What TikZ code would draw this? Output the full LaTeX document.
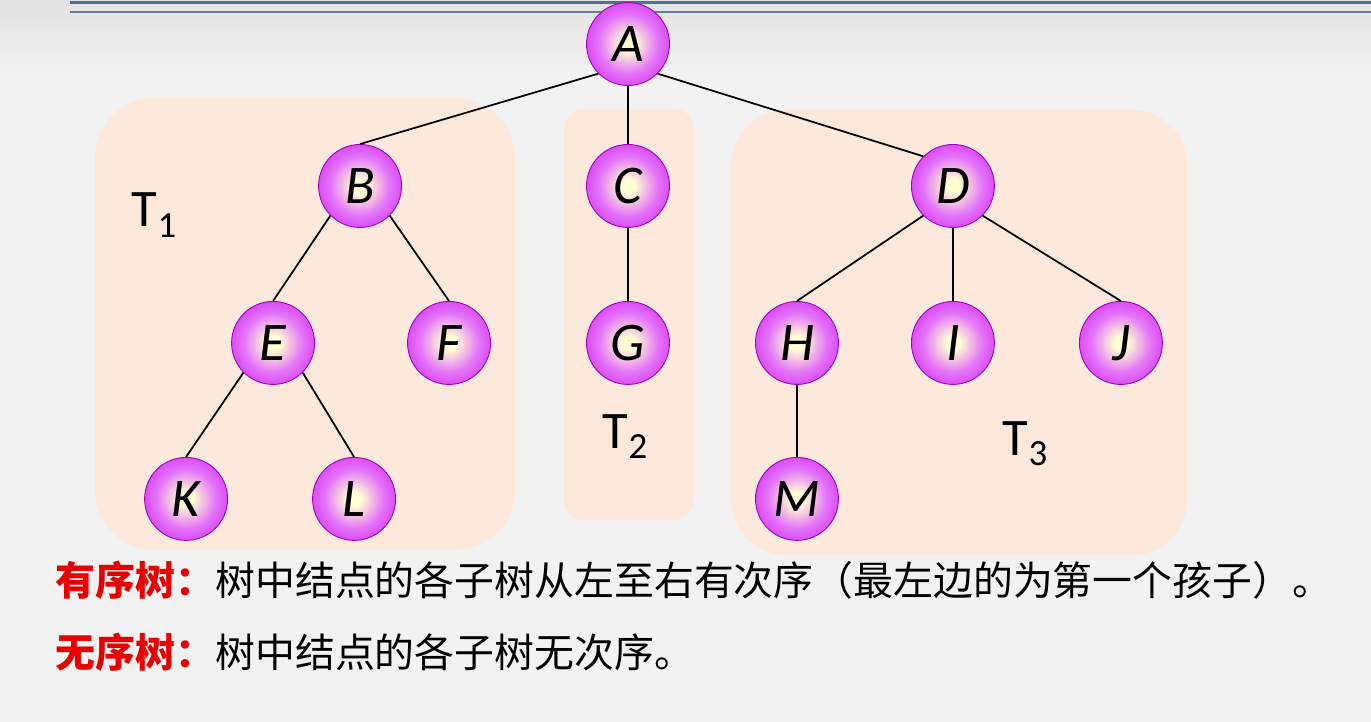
\documentclass[tikz,border=0pt]{standalone}
\usepackage{fontspec}
\usepackage{tikz}
\usetikzlibrary{positioning}
\newfontfamily\letterfont{Carlito}
\newfontfamily\cjk{Noto Sans CJK SC}

\definecolor{bgmain}{RGB}{242,242,242}
\definecolor{bgtop}{RGB}{226,226,226}
\definecolor{rulea}{RGB}{80,110,150}
\definecolor{ruleb}{RGB}{110,125,145}
\definecolor{subtree}{RGB}{252,233,220}
\definecolor{ballcore}{RGB}{255,255,210}
\definecolor{ballmid}{RGB}{228,115,250}
\definecolor{ballouter}{RGB}{210,40,242}
\definecolor{ballrim}{RGB}{196,0,232}
\definecolor{ballline}{RGB}{160,0,190}
\definecolor{keyred}{RGB}{232,0,0}

\pgfdeclareradialshading{purpleball}{\pgfpoint{0bp}{0bp}}{%
  color(0bp)=(ballcore); color(4bp)=(ballcore); color(18bp)=(ballmid);
  color(32bp)=(ballouter); color(44bp)=(ballrim); color(50bp)=(ballrim)}

\tikzset{treelabel/.style={anchor=base west, inner sep=0pt,
  font=\letterfont\fontsize{30}{30}\selectfont}}

\begin{document}
\begin{tikzpicture}[x=0.02cm, y=-0.02cm,
      node distance=3.1cm,
      on grid,
      line width=1pt,
      ball/.style={circle, minimum size=1.66cm, inner sep=0pt,
        shading=purpleball, draw=ballline, line width=0.5pt,
        font=\letterfont\itshape\fontsize{31}{31}\selectfont},
      subtreebox/.style={fill=subtree}]

    % background and title rules
    \useasboundingbox (0,0) rectangle (1371,722);
    \fill[bgmain] (0,0) rectangle (1371,722);
    \fill[top color=bgtop, bottom color=bgmain] (0,0) rectangle (1371,75);
    \draw[rulea, line width=1.7pt] (70,3) -- (1371,3);
    \draw[ruleb, line width=1.1pt] (70,12) -- (1371,12);

    % subtrees
    \fill[subtreebox, rounded corners=1.2cm] (95,98) rectangle (515,550);
    \fill[subtreebox, rounded corners=0.4cm] (564,109) rectangle (694,520);
    \fill[subtreebox, rounded corners=1.1cm] (731,110) rectangle (1187,555);

    \node[ball]
      (A) at (628,44) {A};
    \node[ball]
      (B) [below left=2.84cm and 5.36cm of A] {B};
    \node[ball]
      (C) [below=2.84cm of A] {C};
    \node[ball]
      (D) [below right=2.84cm and 6.5cm of A] {D};
    \node[ball]
      (E) [below left=3.14cm and 1.74cm of B] {E};
    \node[ball]
      (F) [below right=3.14cm and 1.78cm of B] {F};
    \node[ball]
      (G) [below=3.14cm of C] {G};
    \node[ball]
      (H) [below left=3.14cm and 3.12cm of D] {H};
    \node[ball]
      (I) [below=3.14cm of D] {I};
    \node[ball]
      (J) [below right=3.14cm and 3.36cm of D] {J};
    \node[ball]
      (K) [below left=3.12cm and 1.74cm of E] {K};
    \node[ball]
      (L) [below right=3.12cm and 1.62cm of E] {L};
    \node[ball]
      (M) [below=3.12cm of H] {M};

    \path
      (A.south west) edge (B.north)
      (A.south) edge (C.north)
      (A.south east) edge (D.north west)
      (B.south west) edge (E.north)
      (B.south east) edge (F.north)
      (C.south) edge (G.north)
      (D.south west) edge (H.north)
      (D.south) edge (I.north)
      (D.south east) edge (J.north)
      (E.south west) edge (K.north)
      (E.south east) edge (L.north)
      (H.south) edge (M.north);

    \node[treelabel] (T1) at (131,227) {T\raisebox{-6pt}{\fontsize{21}{21}\selectfont 1}};
    \node[treelabel] (T2) at (602,448) {T\raisebox{-6pt}{\fontsize{21}{21}\selectfont 2}};
    \node[treelabel] (T3) at (1002,455) {T\raisebox{-6pt}{\fontsize{21}{21}\selectfont 3}};

    % definitions
    \node[anchor=west, inner sep=0pt, font=\cjk\fontsize{22.7}{22.7}\selectfont]
      (Ordered) at (55,580) {{\color{keyred}\bfseries 有序树：}树中结点的各子树从左至右有次序（最左边的为第一个孩子）。};
    \node[anchor=west, inner sep=0pt, font=\cjk\fontsize{22.7}{22.7}\selectfont]
      (Unordered) at (55,652) {{\color{keyred}\bfseries 无序树：}树中结点的各子树无次序。};

  \end{tikzpicture}
\end{document}
